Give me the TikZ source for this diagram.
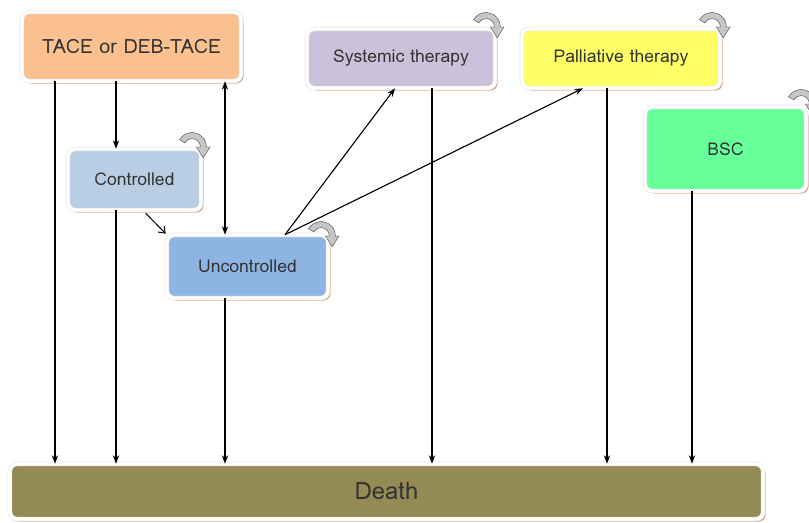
\documentclass[tikz,border=0pt]{standalone}
\usepackage{fontspec}
\setmainfont{Loma}
\usetikzlibrary{arrows.meta,shadows}

\definecolor{tacecol}{HTML}{FAC090}
\definecolor{ctrlcol}{HTML}{B9CDE5}
\definecolor{unccol}{HTML}{8EB4E3}
\definecolor{syscol}{HTML}{CCC1DA}
\definecolor{palcol}{HTML}{FFFF66}
\definecolor{bsccol}{HTML}{66FF99}
\definecolor{deathcol}{HTML}{948A54}
\definecolor{shadowcol}{HTML}{D8A67E}
\definecolor{textcol}{HTML}{333333}

\begin{document}
\begin{tikzpicture}[x=0.025cm, y=-0.025cm,
    state/.style={rectangle, rounded corners=5pt, draw=gray!20, double=white,
      double distance=2.4pt, line width=0.4pt, text=textcol,
      font=\fontsize{12.5}{14}\selectfont,
      drop shadow={shadow xshift=1.8pt, shadow yshift=-1.8pt, fill=shadowcol, opacity=1}},
    arr/.style={-{Stealth[length=6pt,width=4.5pt]}, line width=0.8pt},
    arrboth/.style={{Stealth[length=6pt,width=4.5pt]}-{Stealth[length=6pt,width=4.5pt]}, line width=0.8pt},
    selfarrow/.pic={
      \filldraw[draw=gray!60!black, fill=gray!45, line width=0.3pt]
        (150:0.36cm) arc[start angle=150, end angle=0, radius=0.36cm]
        -- (0:0.45cm) -- (0.28cm,-0.27cm) -- (0:0.11cm) -- (0:0.21cm)
        arc[start angle=0, end angle=150, radius=0.21cm] -- cycle;
    }]
  \useasboundingbox (0,0) rectangle (809,523);

  % states
  \node[state, fill=tacecol, minimum width=5.475cm, minimum height=1.725cm,
        font=\fontsize{14}{16}\selectfont] (tace) at (131.5,46.5) {TACE or DEB-TACE};
  \node[state, fill=ctrlcol, minimum width=3.325cm, minimum height=1.525cm] (ctrl) at (134.5,179.5) {Controlled};
  \node[state, fill=unccol, minimum width=4.025cm, minimum height=1.575cm] (unc) at (247.5,266.5) {Uncontrolled};
  \node[state, fill=syscol, minimum width=4.7cm, minimum height=1.475cm] (sys) at (401,58.5) {Systemic therapy};
  \node[state, fill=palcol, minimum width=4.95cm, minimum height=1.475cm] (pal) at (621,58.5) {Palliative therapy};
  \node[state, fill=bsccol, minimum width=4.025cm, minimum height=2.1cm] (bsc) at (725.5,149) {BSC};
  \node[state, fill=deathcol, minimum width=18.825cm, minimum height=1.375cm,
        font=\fontsize{17}{19}\selectfont] (death) at (386.5,491.5) {Death};

  % staying in the same state
  \pic at (192,147) {selfarrow};
  \pic at (321,236) {selfarrow};
  \pic at (486,27) {selfarrow};
  \pic at (712,27) {selfarrow};
  \pic at (801,104) {selfarrow};

  % x positions of the vertical lines
  \coordinate (tacex) at (55,0);
  \coordinate (ctrlx) at (116,0);
  \coordinate (uncx) at (225,0);
  \coordinate (fanx) at (285,0);
  \coordinate (sysinx) at (395,0);
  \coordinate (sysx) at (432,0);
  \coordinate (palinx) at (583,0);
  \coordinate (palx) at (607,0);
  \coordinate (bscx) at (692,0);

  % transitions
  \draw[arr] (tace.south -| ctrlx) -- (ctrl.north -| ctrlx);
  \draw[arrboth] (tace.south -| uncx) -- (unc.north -| uncx);
  \draw[-{Straight Barb[length=4pt,width=6pt]}, line width=0.7pt, shorten <=3pt, shorten >=1pt]
    (ctrl.-75) -- (unc.north west);
  \draw[arr] (unc.north -| fanx) -- (sys.south -| sysinx);
  \draw[arr] (unc.north -| fanx) -- (pal.south -| palinx);

  % to death
  \draw[arr] (tace.south -| tacex) -- (death.north -| tacex);
  \draw[arr] (ctrl.south -| ctrlx) -- (death.north -| ctrlx);
  \draw[arr] (unc.south -| uncx) -- (death.north -| uncx);
  \draw[arr] (sys.south -| sysx) -- (death.north -| sysx);
  \draw[arr] (pal.south -| palx) -- (death.north -| palx);
  \draw[arr] (bsc.south -| bscx) -- (death.north -| bscx);
\end{tikzpicture}
\end{document}
